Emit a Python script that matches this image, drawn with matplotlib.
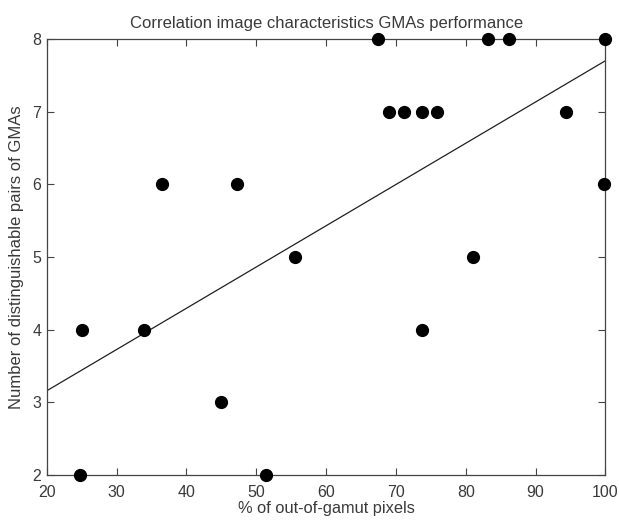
import numpy as np
import matplotlib.pyplot as plt

# Data
out_of_gamut = [24.7, 25.1, 33.9, 36.5, 44.9, 47.2, 51.4, 55.6, 67.4, 69.0,
                71.2, 73.8, 73.8, 75.9, 81.1, 83.2, 86.2, 94.3, 99.9, 99.8]
pairs = [2, 4, 4, 6, 3, 6, 2, 5, 8, 7,
         7, 7, 4, 7, 5, 8, 8, 7, 8, 6]
x_ticks = [20, 30, 40, 50, 60, 70, 80, 90, 100]
y_ticks = [2, 3, 4, 5, 6, 7, 8]

plt.rcParams['font.family'] = ['Liberation Sans', 'DejaVu Sans']
TEXT = '#3a3a3a'

fig = plt.figure(figsize=(6.19, 5.21), dpi=100)
ax = fig.add_axes([0.0756, 0.0883, 0.9024, 0.8367])

# least squares fit line
slope, icpt = np.polyfit(out_of_gamut, pairs, 1)
xl = np.array([x_ticks[0], x_ticks[-1]])
ax.plot(xl, slope * xl + icpt, color='#202020', lw=0.9)

ax.plot(out_of_gamut, pairs, 'o', color='black', ms=8.5, clip_on=False, zorder=5)

ax.set_xlim(20, 100)
ax.set_ylim(2, 8)
ax.set_xticks(x_ticks)
ax.set_yticks(y_ticks)
ax.tick_params(direction='in', top=True, right=True, length=5, width=0.8,
               labelsize=11.5, colors='#444444', labelcolor=TEXT)
ax.tick_params(axis='x', pad=7)
ax.tick_params(axis='y', pad=4)
for s in ax.spines.values():
    s.set_color('#444444')
    s.set_linewidth(0.9)

ax.set_title('Correlation image characteristics GMAs performance',
             fontsize=12, color=TEXT, pad=8)
ax.set_xlabel('% of out-of-gamut pixels', fontsize=11.8, color=TEXT, labelpad=1)
ax.set_ylabel('Number of distinguishable pairs of GMAs', fontsize=12,
              color=TEXT, labelpad=6)

fig.savefig('out.png', dpi=100)
